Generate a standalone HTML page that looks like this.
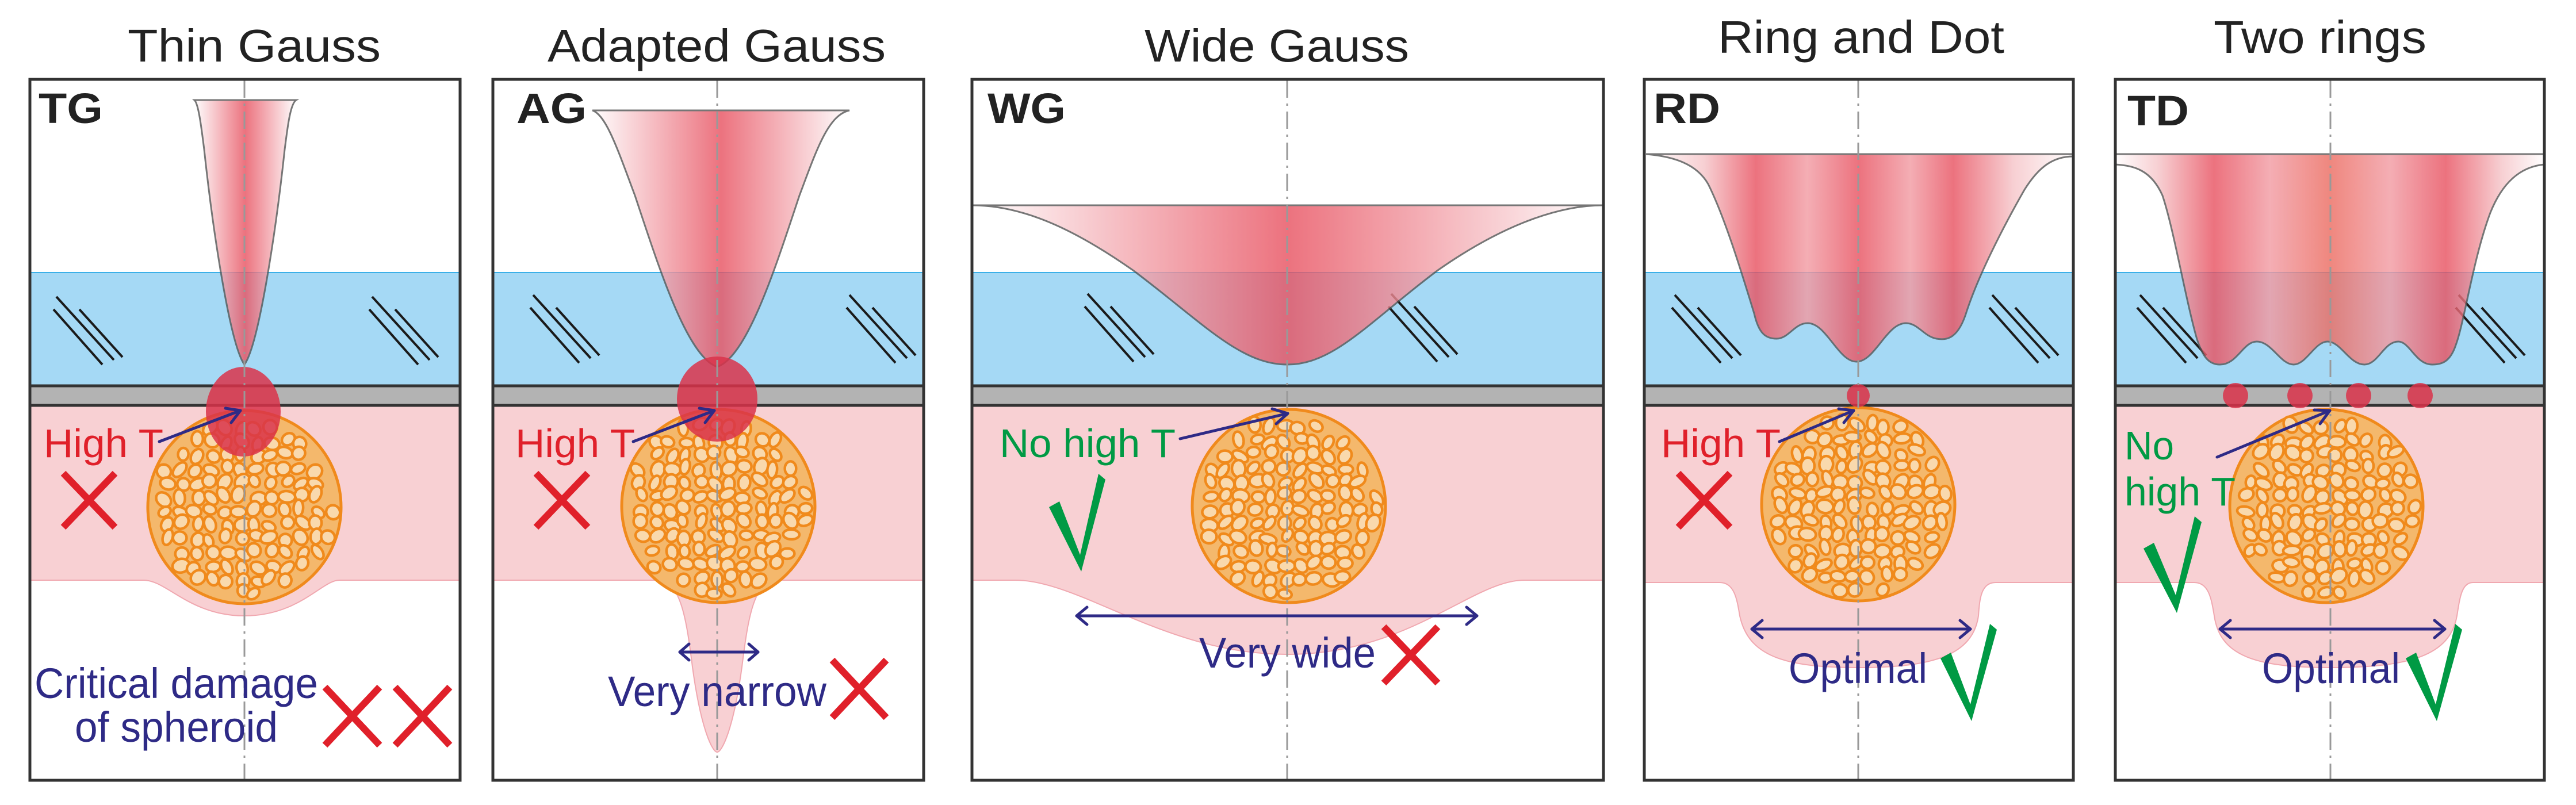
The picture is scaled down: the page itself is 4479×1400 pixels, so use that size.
<!DOCTYPE html>
<html><head><meta charset="utf-8"><style>
html,body{margin:0;padding:0;background:#fff;}
svg{display:block;}
text{font-family:"Liberation Sans",Arial,sans-serif;}
</style></head><body>
<svg id="s" width="4479" height="1400" viewBox="0 0 4479 1400" xmlns="http://www.w3.org/2000/svg">
<defs>
<linearGradient id="g1" x1="338" x2="515" y1="0" y2="0" gradientUnits="userSpaceOnUse">
<stop offset="0" stop-color="#fff"/><stop offset="0.5" stop-color="#e8505f"/><stop offset="1" stop-color="#fff"/></linearGradient>
<linearGradient id="g2" x1="1030" x2="1477" y1="0" y2="0" gradientUnits="userSpaceOnUse">
<stop offset="0" stop-color="#fff"/><stop offset="0.5" stop-color="#e8505f"/><stop offset="1" stop-color="#fff"/></linearGradient>
<linearGradient id="g3" x1="1690" x2="2788" y1="0" y2="0" gradientUnits="userSpaceOnUse">
<stop offset="0" stop-color="#fff"/><stop offset="0.5" stop-color="#e8505f"/><stop offset="1" stop-color="#fff"/></linearGradient>
<linearGradient id="g4" x1="2859" x2="3605" y1="0" y2="0" gradientUnits="userSpaceOnUse">
<stop offset="0" stop-color="#fff"/><stop offset="0.14" stop-color="#f6c4c8"/><stop offset="0.26" stop-color="#e8505f"/><stop offset="0.38" stop-color="#f29aa2"/><stop offset="0.5" stop-color="#e8505f"/><stop offset="0.62" stop-color="#f29aa2"/><stop offset="0.72" stop-color="#e8505f"/><stop offset="0.86" stop-color="#f6c4c8"/><stop offset="1" stop-color="#fff"/></linearGradient>
<linearGradient id="g5" x1="3678" x2="4424" y1="0" y2="0" gradientUnits="userSpaceOnUse">
<stop offset="0" stop-color="#fff"/><stop offset="0.1" stop-color="#f6c4c8"/><stop offset="0.23" stop-color="#e8505f"/><stop offset="0.36" stop-color="#f29aa2"/><stop offset="0.5" stop-color="#ec6a5f"/><stop offset="0.64" stop-color="#f29aa2"/><stop offset="0.77" stop-color="#e8505f"/><stop offset="0.9" stop-color="#f6c4c8"/><stop offset="1" stop-color="#fff"/></linearGradient>
<g id="hatch" stroke="#1a1a1a" stroke-width="4">
<line x1="0" y1="0" x2="100" y2="110"/><line x1="-5" y1="22" x2="80" y2="118"/><line x1="40" y1="22" x2="115" y2="105"/>
</g>
</defs>

<g fill="#222" font-size="80">
<text x="222" y="107" textLength="440" lengthAdjust="spacingAndGlyphs">Thin Gauss</text>
<text x="952" y="107" textLength="588" lengthAdjust="spacingAndGlyphs">Adapted Gauss</text>
<text x="1990" y="107" textLength="460" lengthAdjust="spacingAndGlyphs">Wide Gauss</text>
<text x="2987" y="92" textLength="498" lengthAdjust="spacingAndGlyphs">Ring and Dot</text>
<text x="3849" y="92" textLength="370" lengthAdjust="spacingAndGlyphs">Two rings</text>
</g>

<g id="layers">
<rect x="52" y="473" width="748" height="198" fill="#a5d9f5"/><line x1="52" y1="474" x2="800" y2="474" stroke="#3bb0e8" stroke-width="2"/>
<rect x="52" y="671" width="748" height="34" fill="#b3b3b3"/>
<path d="M52 705 H800 V1009 H590 C560 1009 520 1071 425 1071 C330 1071 290 1009 250 1009 H52 Z" fill="#f8d0d3" stroke="#f0a8b0" stroke-width="2"/>
<rect x="857" y="473" width="749" height="198" fill="#a5d9f5"/><line x1="857" y1="474" x2="1606" y2="474" stroke="#3bb0e8" stroke-width="2"/>
<rect x="857" y="671" width="749" height="34" fill="#b3b3b3"/>
<path d="M857 705 H1606 V1009 H1350 C1310 1009 1300 1080 1290 1160 C1275 1270 1255 1308 1247 1308 C1239 1308 1219 1270 1204 1160 C1194 1080 1184 1009 1144 1009 H857 Z" fill="#f8d0d3" stroke="#f0a8b0" stroke-width="2"/>
<rect x="1690" y="473" width="1098" height="198" fill="#a5d9f5"/><line x1="1690" y1="474" x2="2788" y2="474" stroke="#3bb0e8" stroke-width="2"/>
<rect x="1690" y="671" width="1098" height="34" fill="#b3b3b3"/>
<path d="M1690 705 H2788 V1009 H2650 C2560 1009 2450 1138 2238 1138 C2026 1138 1880 1009 1765 1009 H1690 Z" fill="#f8d0d3" stroke="#f0a8b0" stroke-width="2"/>
<rect x="2859" y="473" width="746" height="198" fill="#a5d9f5"/><line x1="2859" y1="474" x2="3605" y2="474" stroke="#3bb0e8" stroke-width="2"/>
<rect x="2859" y="671" width="746" height="34" fill="#b3b3b3"/>
<path d="M2859 705 H3605 V1013 H3470 C3445 1013 3442 1040 3440 1071 C3430 1140 3360 1161 3231 1161 C3100 1161 3040 1140 3025 1071 C3020 1040 3015 1013 2990 1013 H2859 Z" fill="#f8d0d3" stroke="#f0a8b0" stroke-width="2"/>
<rect x="3678" y="473" width="746" height="198" fill="#a5d9f5"/><line x1="3678" y1="474" x2="4424" y2="474" stroke="#3bb0e8" stroke-width="2"/>
<rect x="3678" y="671" width="746" height="34" fill="#b3b3b3"/>
<path d="M3678 705 H4424 V1013 H4300 C4280 1013 4277 1040 4272 1071 C4260 1140 4190 1161 4052 1161 C3920 1161 3860 1140 3850 1071 C3845 1040 3840 1013 3815 1013 H3678 Z" fill="#f8d0d3" stroke="#f0a8b0" stroke-width="2"/>
</g>
<g stroke="#333" stroke-width="5">
<line x1="52" y1="671" x2="800" y2="671"/><line x1="52" y1="705" x2="800" y2="705"/>
<line x1="857" y1="671" x2="1606" y2="671"/><line x1="857" y1="705" x2="1606" y2="705"/>
<line x1="1690" y1="671" x2="2788" y2="671"/><line x1="1690" y1="705" x2="2788" y2="705"/>
<line x1="2859" y1="671" x2="3605" y2="671"/><line x1="2859" y1="705" x2="3605" y2="705"/>
<line x1="3678" y1="671" x2="4424" y2="671"/><line x1="3678" y1="705" x2="4424" y2="705"/>
</g>

<use href="#hatch" x="98" y="516"/><use href="#hatch" x="647" y="516"/>
<use href="#hatch" x="927" y="513"/><use href="#hatch" x="1477" y="513"/>
<use href="#hatch" x="1891" y="511"/><use href="#hatch" x="2419" y="511"/>
<use href="#hatch" x="2912" y="513"/><use href="#hatch" x="3464" y="513"/>
<use href="#hatch" x="3721" y="513"/><use href="#hatch" x="4275" y="513"/>

<g id="sph"></g>

<g stroke="#555" stroke-width="3" opacity="0.8">
<path d="M338 174 H515 C505 180 500 220 495 260 C480 400 450 600 425 634 C400 600 370 400 355 260 C350 220 345 180 338 174 Z" fill="url(#g1)"/>
<path d="M1030 192 H1477 C1440 200 1420 260 1390 340 C1350 460 1300 620 1247 638 C1194 620 1144 460 1104 340 C1074 260 1054 200 1030 192 Z" fill="url(#g2)"/>
<path d="M1690 357 H2788 C2700 357 2600 400 2500 470 C2380 560 2320 634 2238 634 C2156 634 2090 560 1970 470 C1870 400 1780 357 1690 357 Z" fill="url(#g3)"/>
<path d="M2862 268 H3605 V272 C3570 272 3545 290 3520 330 C3480 400 3440 480 3420 540 C3405 590 3385 592 3367 589 C3345 585 3335 562 3314 562 C3280 562 3260 629 3228 629 C3196 629 3176 562 3143 562 C3120 562 3110 589 3089 589 C3070 589 3058 580 3050 545 C3030 480 3000 380 2970 320 C2950 285 2910 272 2862 268 Z" fill="url(#g4)"/>
<path d="M3678 268 H4424 V286 C4380 290 4350 320 4330 370 C4300 450 4285 560 4270 600 C4260 630 4245 634 4229 634 C4200 634 4190 594 4170 594 C4145 594 4135 634 4111 634 C4085 634 4070 594 4047 594 C4025 594 4010 634 3988 634 C3965 634 3950 594 3924 594 C3900 594 3890 634 3860 634 C3840 634 3830 620 3820 590 C3800 520 3780 400 3760 340 C3740 295 3710 288 3678 286 Z" fill="url(#g5)"/>
</g>

<g fill="#d9334a" fill-opacity="0.85">
<ellipse cx="423" cy="716" rx="65" ry="78"/>
<ellipse cx="1247" cy="694" rx="70" ry="74"/>
<circle cx="3231" cy="688" r="20"/>
<circle cx="3887" cy="688" r="22"/><circle cx="3999" cy="688" r="22"/><circle cx="4101" cy="688" r="22"/><circle cx="4208" cy="688" r="22"/>
</g>

<g stroke="#999" stroke-width="3" stroke-dasharray="30 10 4 10">
<line x1="425" y1="140" x2="425" y2="1355"/>
<line x1="1247" y1="140" x2="1247" y2="1355"/>
<line x1="2238" y1="140" x2="2238" y2="1355"/>
<line x1="3231" y1="140" x2="3231" y2="1355"/>
<line x1="4052" y1="140" x2="4052" y2="1355"/>
</g>

<g fill="none" stroke="#333" stroke-width="5">
<rect x="52" y="138" width="748" height="1219"/>
<rect x="857" y="138" width="749" height="1219"/>
<rect x="1690" y="138" width="1098" height="1219"/>
<rect x="2859" y="138" width="746" height="1219"/>
<rect x="3678" y="138" width="746" height="1219"/>
</g>

<g fill="#222" font-weight="bold" font-size="74">
<text x="67" y="214" textLength="112" lengthAdjust="spacingAndGlyphs">TG</text>
<text x="898" y="214" textLength="122" lengthAdjust="spacingAndGlyphs">AG</text>
<text x="1717" y="214" textLength="136" lengthAdjust="spacingAndGlyphs">WG</text>
<text x="2875" y="214" textLength="116" lengthAdjust="spacingAndGlyphs">RD</text>
<text x="3699" y="218" textLength="107" lengthAdjust="spacingAndGlyphs">TD</text>
</g>

<g stroke="#2e2a86" stroke-width="5" fill="none" stroke-linecap="round" stroke-linejoin="round">
<line x1="277" y1="768" x2="418" y2="714"/><polyline points="392,710 418,714 402,735"/>
<line x1="1101" y1="768" x2="1242" y2="714"/><polyline points="1216,710 1242,714 1226,735"/>
<line x1="2052" y1="763" x2="2239" y2="719"/><polyline points="2212,711 2239,719 2219,737"/>
<line x1="3094" y1="768" x2="3223" y2="714"/><polyline points="3197,711 3223,714 3206,735"/>
<line x1="3855" y1="795" x2="4051" y2="714"/><polyline points="4024,713 4051,714 4034,737"/>
<line x1="1182" y1="1134" x2="1318" y2="1134"/><polyline points="1198,1120 1182,1134 1198,1148"/><polyline points="1302,1120 1318,1134 1302,1148"/>
<line x1="1872" y1="1071" x2="2568" y2="1071"/><polyline points="1890,1056 1872,1071 1890,1086"/><polyline points="2550,1056 2568,1071 2550,1086"/>
<line x1="3046" y1="1094" x2="3426" y2="1094"/><polyline points="3064,1079 3046,1094 3064,1109"/><polyline points="3408,1079 3426,1094 3408,1109"/>
<line x1="3860" y1="1094" x2="4251" y2="1094"/><polyline points="3878,1079 3860,1094 3878,1109"/><polyline points="4233,1079 4251,1094 4233,1109"/>
</g>

<g font-size="70">
<text x="76" y="795" fill="#e0202a" textLength="208" lengthAdjust="spacingAndGlyphs">High T</text>
<text x="896" y="795" fill="#e0202a" textLength="208" lengthAdjust="spacingAndGlyphs">High T</text>
<text x="2888" y="795" fill="#e0202a" textLength="208" lengthAdjust="spacingAndGlyphs">High T</text>
<text x="1738" y="795" fill="#009a44" textLength="306" lengthAdjust="spacingAndGlyphs">No high T</text>
<text x="3694" y="799" fill="#009a44" textLength="86" lengthAdjust="spacingAndGlyphs">No</text>
<text x="3694" y="879" fill="#009a44" textLength="193" lengthAdjust="spacingAndGlyphs">high T</text>
</g>
<g font-size="74" fill="#2e2a86">
<text x="60" y="1214" textLength="493" lengthAdjust="spacingAndGlyphs">Critical damage</text>
<text x="130" y="1290" textLength="353" lengthAdjust="spacingAndGlyphs">of spheroid</text>
<text x="1057" y="1228" textLength="380" lengthAdjust="spacingAndGlyphs">Very narrow</text>
<text x="2085" y="1161" textLength="307" lengthAdjust="spacingAndGlyphs">Very wide</text>
<text x="3110" y="1188" textLength="241" lengthAdjust="spacingAndGlyphs">Optimal</text>
<text x="3933" y="1188" textLength="240" lengthAdjust="spacingAndGlyphs">Optimal</text>
</g>

<g stroke="#e0202a" stroke-width="12">
<path d="M110 823 L200 917 M200 823 L110 917"/>
<path d="M932 823 L1022 917 M1022 823 L932 917"/>
<path d="M2918 823 L3008 917 M3008 823 L2918 917"/>
<path d="M565 1195 L660 1296 M660 1195 L565 1296"/>
<path d="M687 1195 L782 1296 M782 1195 L687 1296"/>
<path d="M1447 1148 L1541 1248 M1541 1148 L1447 1248"/>
<path d="M2406 1090 L2500 1188 M2500 1090 L2406 1188"/>
</g>

<g fill="#009a44">
<path d="M1824 882 L1842 872 L1878 965 L1910 824 L1922 834 L1880 994 Z"/>
<path d="M3374 1145 L3392 1135 L3426 1225 L3460 1085 L3472 1095 L3428 1254 Z"/>
<path d="M3727 954 L3745 944 L3783 1035 L3816 898 L3828 908 L3785 1066 Z"/>
<path d="M4183 1145 L4201 1135 L4235 1225 L4269 1085 L4281 1095 L4237 1254 Z"/>
</g>
</svg>
<script>
(function(){
var NS="http://www.w3.org/2000/svg";
var g=document.getElementById("sph");
var seed=12345;function rnd(){seed=(seed*1103515245+12345)%2147483648;return seed/2147483648;}
var cs=[[425,882],[1249,880],[2241,880],[3231,877],[4045,880]];
cs.forEach(function(c){
 var base=document.createElementNS(NS,"circle");
 base.setAttribute("cx",c[0]);base.setAttribute("cy",c[1]);base.setAttribute("r",168);
 base.setAttribute("fill","#f4b86c");base.setAttribute("stroke","#f08a1c");base.setAttribute("stroke-width","5");
 g.appendChild(base);
 for(var y=-162;y<=162;y+=24){for(var x=-162;x<=162;x+=26){
  var px=x+(rnd()-0.5)*10, py=y+(rnd()-0.5)*10;
  if(px*px+py*py>155*155) continue;
  var e=document.createElementNS(NS,"ellipse");
  e.setAttribute("cx",c[0]+px);e.setAttribute("cy",c[1]+py);
  e.setAttribute("rx",11+rnd()*4);e.setAttribute("ry",8+rnd()*4);
  e.setAttribute("transform","rotate("+Math.floor(rnd()*180)+" "+(c[0]+px)+" "+(c[1]+py)+")");
  e.setAttribute("fill","#f9d9ad");e.setAttribute("stroke","#f08a1c");e.setAttribute("stroke-width","4.5");
  g.appendChild(e);
 }}
});
})();
</script>
</body></html>
